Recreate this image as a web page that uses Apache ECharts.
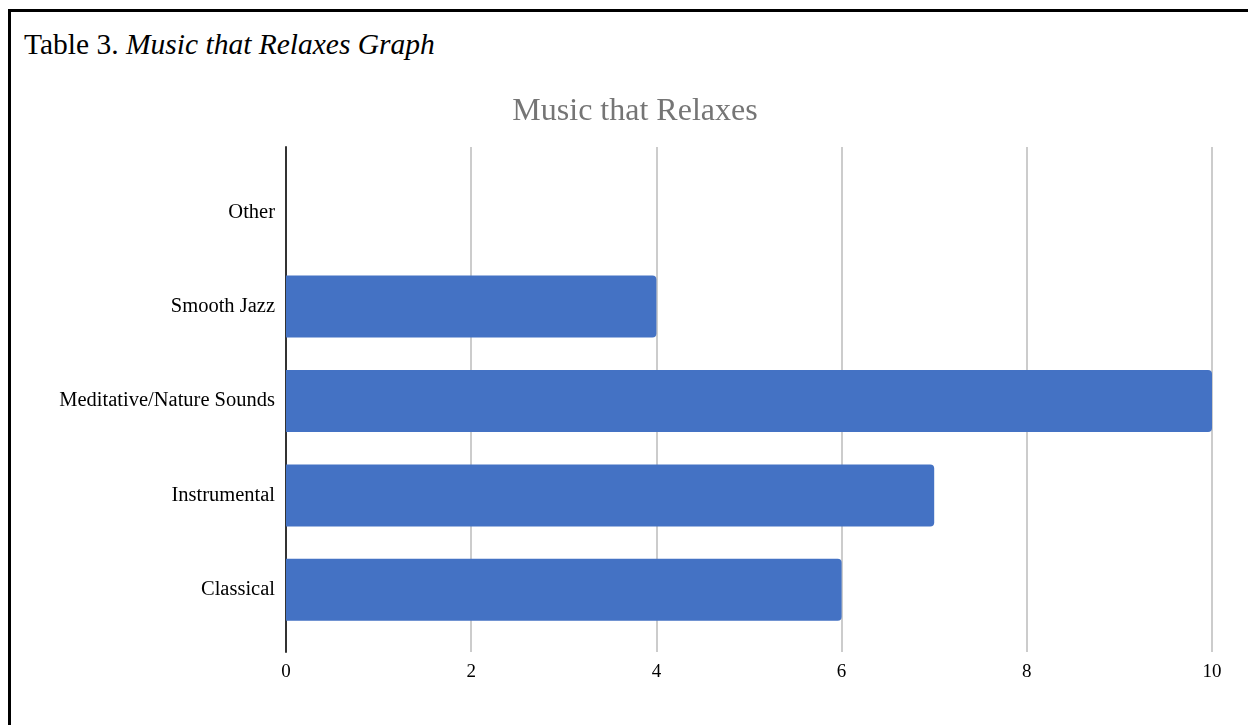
<!DOCTYPE html>
<html>
<head>
<meta charset="utf-8">
<script src="https://cdn.jsdelivr.net/npm/echarts@6/dist/echarts.min.js"></script>
<style>
  html, body { margin: 0; padding: 0; background: #fff; width: 1248px; height: 725px; overflow: hidden; }
  #frame { position: absolute; left: 8px; top: 9px; width: 1300px; height: 800px; border-left: 3px solid #000; border-top: 3px solid #000; }
  #caption { position: absolute; left: 24px; top: 26px; font-family: "Liberation Serif", "Times New Roman", serif; font-size: 29.5px; line-height: 36px; color: #000; white-space: nowrap; }
  #chart { position: absolute; left: 0; top: 0; width: 1248px; height: 725px; }
</style>
</head>
<body>
<div id="frame"></div>
<div id="caption">Table 3. <i>Music that Relaxes Graph</i></div>
<div id="chart"></div>
<script>
const categories = ["Other", "Smooth Jazz", "Meditative/Nature Sounds", "Instrumental", "Classical"];
const values = [0, 4, 10, 7, 6];
const xTicks = [0, 2, 4, 6, 8, 10];
const chartTitle = "Music that Relaxes";

const serif = '"Liberation Serif", "Times New Roman", serif';
const chart = echarts.init(document.getElementById('chart'), null, { renderer: 'canvas' });
chart.setOption({
  backgroundColor: 'transparent',
  animation: false,
  title: {
    text: chartTitle,
    left: 630, top: 91, textAlign: 'center',
    textStyle: { fontFamily: serif, fontSize: 32, fontWeight: 'normal', color: '#757575' }
  },
  grid: [
    { left: 286, right: 36, top: 147, bottom: 73 },
    { left: 286, right: 36, top: 165, bottom: 88 }
  ],
  xAxis: [
    {
      gridIndex: 0, type: 'value', min: xTicks[0], max: xTicks[xTicks.length - 1], interval: 2,
      axisLine: { show: false }, axisTick: { show: false },
      splitLine: { show: true, lineStyle: { color: '#cccccc', width: 2 } },
      axisLabel: { margin: 11, fontFamily: serif, fontSize: 19, color: '#000' }
    },
    {
      gridIndex: 1, type: 'value', min: xTicks[0], max: xTicks[xTicks.length - 1], interval: 2,
      show: false
    }
  ],
  yAxis: [
    {
      gridIndex: 0, type: 'value', min: 0, max: 1,
      axisLine: { show: true, lineStyle: { color: '#333', width: 2 } },
      axisTick: { show: false }, axisLabel: { show: false }, splitLine: { show: false }
    },
    {
      gridIndex: 1, type: 'category', data: categories, inverse: true,
      axisLine: { show: false }, axisTick: { show: false }, splitLine: { show: false },
      axisLabel: { margin: 11, fontFamily: serif, fontSize: 20.5, color: '#000' }
    }
  ],
  series: [{
    type: 'bar', xAxisIndex: 1, yAxisIndex: 1,
    data: values, barWidth: 62,
    itemStyle: { color: '#4472C4', borderRadius: [0, 4, 4, 0] },
    silent: true
  }]
});
</script>
</body>
</html>
